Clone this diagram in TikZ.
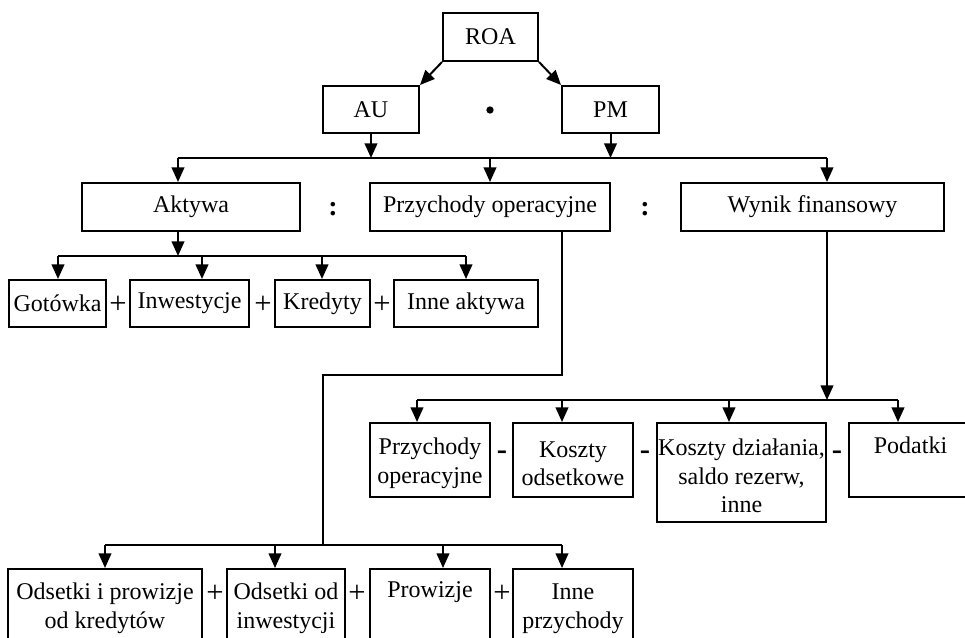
\documentclass[tikz,border=0pt]{standalone}
\usepackage{fontspec}
\setmainfont{Liberation Serif}
\usetikzlibrary{arrows.meta}
\newcommand\myTop{\rule{0pt}{17.5pt}}
\begin{document}
\begin{tikzpicture}[x=0.75pt,y=-0.75pt,
  line width=1.5pt,
  box/.style={draw, line width=1.5pt, inner sep=0pt, align=center,
    font=\fontsize{18}{21.5}\selectfont},
  bx/.style n args={4}{at={({(#1+#3)/2},{(#2+#4)/2})},
    minimum width={(#3-#1)*0.75pt}, minimum height={(#4-#2)*0.75pt}},
  arr/.style={-{Triangle[length=11pt,width=9.5pt]}},
  op/.style={inner sep=0pt, font=\fontsize{23}{23}\selectfont},
  colon/.style={inner sep=0pt, font=\fontsize{21}{22}\selectfont\bfseries}]
\useasboundingbox (0,0) rectangle (965,638);
% top
\node[box, bx={443}{13}{538}{61}] (roa) {ROA};
\node[box, bx={323}{86}{419}{133}] (au) {AU};
\node[box, bx={562}{86}{659}{133}] (pm) {PM};
\node[circle, fill, inner sep=0pt, minimum size=5.5pt] (dot) at (490,110) {};
\draw[arr] (roa.south west) -- (au.north east);
\draw[arr] (roa.south east) -- (pm.north west);
% bus 1
\coordinate (b1L) at (178,158);
\coordinate (b1R) at (827,158);
\draw (b1L) -- (b1R);
\draw[arr] (au.south) -- (au.south |- b1L);
\draw[arr] (pm.south) -- (pm.south |- b1L);
% level 2
\node[box, bx={82}{183}{300}{231}] (akt) {Aktywa};
\node[colon] (c1) at (333,209) {:};
\node[box, bx={370}{183}{610}{231}] (prz) {Przychody operacyjne};
\node[colon] (c2) at (645,209) {:};
\node[box, bx={681}{183}{944}{231}] (wyn) {Wynik finansowy};
\draw[arr] (b1L) -- (b1L |- akt.north);
\draw[arr] (prz.north |- b1L) -- (prz.north);
\draw[arr] (b1R) -- (b1R |- wyn.north);
% assets
\coordinate (b2L) at (58,256);
\coordinate (b2R) at (466,256);
\draw[arr] (b1L |- akt.south) -- (b1L |- b2L);
\draw (b2L) -- (b2R);
\node[box, bx={9}{280}{106}{327}] (got) {Gotówka};
\node[op] (p1) at (118,305) {+};
\node[box, bx={130}{280}{249}{327}] (inw) {Inwestycje};
\node[op] (p2) at (263,305) {+};
\node[box, bx={275}{280}{370}{327}] (kre) {Kredyty};
\node[op] (p3) at (382,305) {+};
\node[box, bx={394}{280}{538}{327}] (inn) {Inne aktywa};
\coordinate (t1) at (58,256);
\coordinate (t2) at (202,256);
\coordinate (t3) at (322,256);
\coordinate (t4) at (466,256);
\draw[arr] (t1) -- (t1 |- got.north);
\draw[arr] (t2) -- (t2 |- inw.north);
\draw[arr] (t3) -- (t3 |- kre.north);
\draw[arr] (t4) -- (t4 |- inn.north);
% result branch
\coordinate (w1) at (827,400);
\coordinate (b3L) at (417,400);
\coordinate (b3R) at (898,400);
\draw[arr] (w1 |- wyn.south) -- (w1);
\draw (b3L) -- (b3R);
\node[box, bx={370}{423}{490}{497}] (rpo) {\myTop Przychody\\operacyjne};
\node[op] (m1) at (502,455) {\textbf{-}};
\node[box, bx={513}{423}{633}{497}] (kod) {\myTop Koszty\\odsetkowe};
\node[op] (m2) at (645,455) {\textbf{-}};
\node[box, bx={657}{423}{826}{522}] (kdz) {\myTop Koszty działania,\\saldo rezerw,\\inne};
\node[op] (m3) at (837,455) {\textbf{-}};
\node[box, bx={849}{423}{972}{497}] (pod) {\myTop Podatki\\\strut};
\coordinate (u1) at (417,400);
\coordinate (u2) at (562,400);
\coordinate (u3) at (729,400);
\coordinate (u4) at (898,400);
\draw[arr] (u1) -- (u1 |- rpo.north);
\draw[arr] (u2) -- (u2 |- kod.north);
\draw[arr] (u3) -- (u3 |- kdz.north);
\draw[arr] (u4) -- (u4 |- pod.north);
% revenue branch
\coordinate (q1) at (562,375);
\coordinate (q2) at (323,375);
\coordinate (q3) at (323,545);
\draw (q1 |- prz.south) -- (q1) -- (q2) -- (q3);
\coordinate (b4L) at (105,545);
\coordinate (b4R) at (562,545);
\draw (b4L) -- (b4R);
\node[box, bx={8}{569}{202}{648}] (odk) {Odsetki i prowizje\\od kredytów};
\node[op] (p4) at (215,594) {+};
\node[box, bx={227}{569}{345}{648}] (odi) {Odsetki od\\inwestycji};
\node[op] (p5) at (357,594) {+};
\node[box, bx={370}{569}{490}{648}] (pro) {Prowizje\\\strut};
\node[op] (p6) at (502,594) {+};
\node[box, bx={513}{569}{633}{648}] (ipr) {Inne\\przychody};
\coordinate (v1) at (105,545);
\coordinate (v2) at (275,545);
\coordinate (v3) at (443,545);
\coordinate (v4) at (562,545);
\draw[arr] (v1) -- (v1 |- odk.north);
\draw[arr] (v2) -- (v2 |- odi.north);
\draw[arr] (v3) -- (v3 |- pro.north);
\draw[arr] (v4) -- (v4 |- ipr.north);
\end{tikzpicture}
\end{document}
